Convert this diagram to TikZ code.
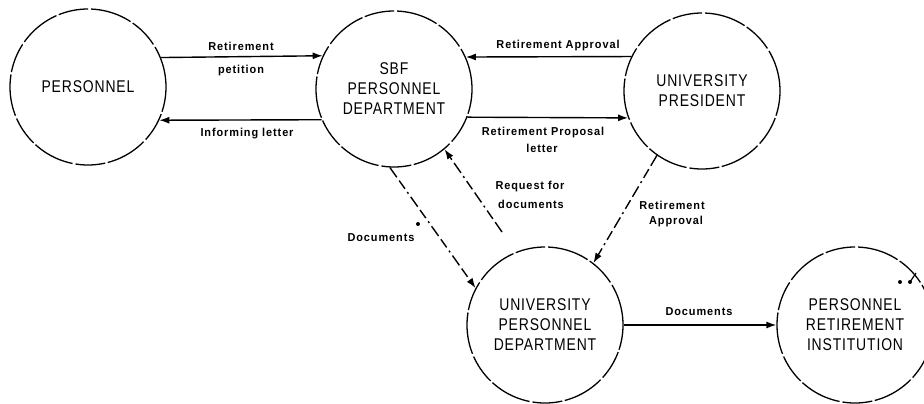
\documentclass[tikz,border=0pt]{standalone}
\usepackage{fontspec}
\setmainfont{Liberation Sans}
\newfontfamily\boxfont[FakeStretch=0.82,LetterSpace=5]{Liberation Sans}
\newfontfamily\flowfont[FakeStretch=0.95,LetterSpace=8]{Liberation Sans Bold}
\usetikzlibrary{arrows.meta}

\tikzset{
  process/.style={circle, draw, line width=1.3pt, minimum size=156pt, inner sep=0pt,
    dash pattern=on 42pt off 3pt on 30pt off 2.5pt, align=center,
    font=\boxfont\fontsize{17}{20}\selectfont},
  flow/.style={line width=1.4pt, -{Latex[length=10pt,width=7pt]}},
  dflow/.style={flow, dash pattern=on 12pt off 4pt on 10pt off 4pt on 2pt off 4pt},
  lbl/.style={font=\flowfont\fontsize{11.5}{17}\selectfont, inner sep=0pt, align=center}
}

\begin{document}
\begin{tikzpicture}[x=1pt, y=-1pt]
\useasboundingbox (0,0) rectangle (924,404);
\clip (0,0) rectangle (924,404);

% processes
\node[process] (P)   at (88,87)   {PERSONNEL};
\node[process] (S)   at (394,89)  {SBF\\PERSONNEL\\DEPARTMENT};
\node[process] (Pr)  at (702,91)  {UNIVERSITY\\PRESIDENT};
\node[process] (U)   at (545,325) {UNIVERSITY\\PERSONNEL\\DEPARTMENT};
\node[process] (R)   at (855,325) {PERSONNEL\\RETIREMENT\\INSTITUTION};

% flows between personnel and SBF
\draw[flow] (P.22.6) -- (S.155.8);
\draw[flow] (S.203.4) -- (P.-25);
\node[lbl] (l1) at (241,46) {Retirement};
\node[lbl] (l2) at (241,71) {petition};
\node[lbl] (l3) at (247,134) {Informing letter};

% flows between SBF and president
\draw[flow] (Pr.154.2) -- (S.24.2);
\draw[flow] (S.-21.8) -- (Pr.200.3);
\node[lbl] (l4) at (558,46) {Retirement Approval};
\node[lbl] (l5) at (543,133) {Retirement Proposal};
\node[lbl] (l6) at (542,148) {letter};

% document exchange with the university personnel department
\draw[dflow] (S.-93) -- (U.152);
\node[lbl] (l7) at (381,238) {Documents};
\fill (418,224) circle (2pt);

\coordinate (rq) at (502,232);
\draw[dflow] (rq) -- (S.-50);
\node[lbl] (l8) at (530,187) {Request for};
\node[lbl] (l9) at (531,204) {documents};

\draw[dflow] (Pr.-125) -- (U.52);
\node[lbl] (l10) at (672,205) {Retirement};
\node[lbl] (l11) at (676,222) {Approval};

% documents to the retirement institution
\draw[flow] (U.east) -- (R.west);
\node[lbl] (l12) at (699,312) {Documents};

\fill (900,282) circle (2pt);
\fill (910,282) circle (2pt);
\draw[line width=1.2pt] (910,282) -- (916,273);
\end{tikzpicture}
\end{document}
